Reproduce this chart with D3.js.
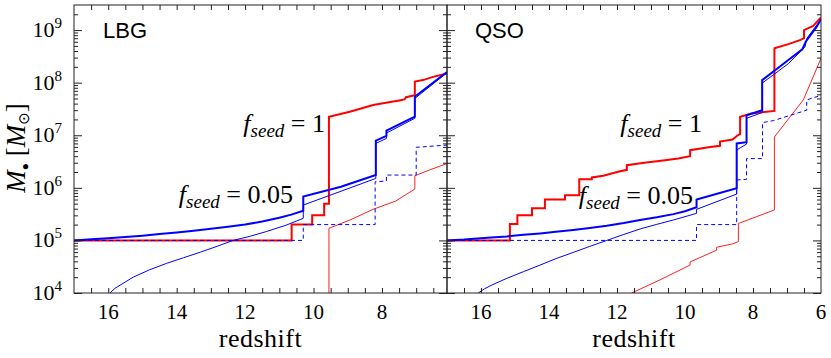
<!DOCTYPE html>
<html>
<head>
<meta charset="utf-8">
<script src="https://cdn.jsdelivr.net/npm/d3@7"></script>
<style>
body { margin: 0; background: #fff; }
svg { display: block; }
</style>
</head>
<body>
<div class="container"></div>
<script>
const size = {
    width: 831,
    height: 358
};
const plotTop = 5, plotBottom = 293;

// redshift / black hole mass pairs
// LBG panel
const lbgThickRed = [[17, 1e5], [10.64, 1e5], [10.64, 2.0e5], [10.04, 2.0e5], [10.04, 3.0e5], [9.69, 3.0e5],
    [9.69, 5.0e5], [9.55, 5.0e5], [9.55, 2.25e7], [8.94, 2.8e7], [8.26, 3.75e7], [7.5, 4.6e7], [7.34, 4.8e7],
    [7.3, 5.3e7], [7.04, 5.8e7], [7.04, 1.05e8], [6.8, 1.12e8], [6.51, 1.29e8], [6.1, 1.5e8]];
const lbgThinRed = [[9.55, 1e3], [9.55, 1.7e5], [8.94, 2.44e5], [8.26, 3.9e5], [7.6, 5.6e5], [7.29, 7.5e5],
    [7.04, 9.5e5], [7.04, 1.7e6], [6.6, 2.2e6], [6.1, 2.9e6]];
const lbgThickBlue = [[17, 1e5], [16.5, 1.05e5], [16, 1.1e5], [15.5, 1.16e5], [15, 1.23e5], [14.5, 1.32e5],
    [14, 1.41e5], [13.5, 1.53e5], [13, 1.66e5], [12.5, 1.82e5], [12, 2.0e5], [11.5, 2.29e5], [11, 2.69e5],
    [10.65, 3.09e5], [10.3, 3.67e5], [10.3, 6.8e5], [9.2, 1.05e6], [8.18, 1.75e6], [8.18, 7.9e6],
    [7.87, 9.7e6], [7.87, 1.22e7], [7.04, 2.25e7], [7.04, 5.4e7], [6.1, 1.6e8]];
const lbgThinBlue = [[15.95, 1e4], [15.8, 1.23e4], [15.6, 1.48e4], [15.27, 2.0e4], [14.8, 2.75e4],
    [14.29, 3.67e4], [13.8, 4.68e4], [13.3, 6.0e4], [12.8, 7.8e4], [12.35, 1.0e5], [11.85, 1.2e5],
    [11.37, 1.48e5], [10.8, 1.95e5], [10.3, 2.63e5], [10.3, 4.7e5], [8.18, 1.51e6], [8.18, 7.0e6],
    [7.87, 8.7e6], [7.87, 1.1e7], [7.04, 2.1e7], [7.04, 5.0e7], [6.1, 1.55e8]];
const lbgDashBlue = [[17, 1e5], [10.3, 1e5], [10.3, 2.0e5], [8.2, 2.0e5], [8.2, 1.3e6], [7.87, 1.35e6],
    [7.87, 1.75e6], [7.0, 1.75e6], [7.0, 5.9e6], [6.1, 6.5e6]];

// QSO panel
const qsoThickRed = [[17, 1e5], [15.15, 1e5], [15.15, 2.05e5], [14.93, 2.05e5], [14.93, 3.0e5], [14.5, 3.0e5],
    [14.5, 4.1e5], [14.12, 4.1e5], [14.12, 6.0e5], [13.53, 6.0e5], [13.53, 7.2e5], [13.11, 7.2e5],
    [13.11, 1.45e6], [12.74, 1.45e6], [12.74, 1.58e6], [12.4, 1.7e6], [12.0, 2.0e6], [11.71, 2.2e6],
    [11.71, 2.7e6], [11.2, 3.0e6], [10.64, 3.3e6], [10.2, 3.6e6], [9.85, 4.0e6], [9.85, 5.2e6],
    [9.26, 6.0e6], [8.97, 6.3e6], [8.97, 7.6e6], [8.6, 8.3e6], [8.45, 1.0e7], [8.38, 1.05e7],
    [8.38, 2.24e7], [8.04, 2.6e7], [7.37, 2.9e7], [7.37, 4.5e8], [6.96, 5.4e8], [6.6, 6.5e8],
    [6.5, 7.0e8], [6.5, 1.0e9], [6.23, 1.2e9], [6.0, 1.75e9]];
const qsoThinRed = [[11.57, 1e4], [10.74, 1.77e4], [9.85, 3.4e4], [9.85, 3.9e4], [9.07, 6.5e4],
    [9.07, 7.4e4], [8.6, 8.6e4], [8.43, 9.5e4], [8.43, 2.1e5], [7.37, 3.8e5], [7.37, 9.3e6],
    [6.52, 4.7e7], [6.0, 2.9e8]];
const qsoThickBlue = [[17, 1e5], [16.5, 1.04e5], [16.1, 1.09e5], [15.7, 1.14e5], [15.24, 1.19e5],
    [14.75, 1.28e5], [14.26, 1.36e5], [13.8, 1.46e5], [13.29, 1.58e5], [12.8, 1.73e5], [12.3, 1.9e5],
    [11.8, 2.14e5], [11.32, 2.44e5], [10.83, 2.75e5], [10.34, 3.16e5], [10.0, 3.6e5], [9.66, 4.27e5],
    [9.66, 6.0e5], [8.48, 9.8e5], [8.48, 7.0e6], [8.19, 7.4e6], [8.19, 2.4e7], [7.73, 3.0e7],
    [7.73, 1.12e8], [6.96, 2.7e8], [6.55, 4.3e8], [6.45, 6.0e8], [6.13, 1.15e9], [6.0, 1.6e9]];
const qsoThinBlue = [[16.08, 1e4], [15.9, 1.2e4], [15.7, 1.4e4], [15.24, 1.9e4], [14.75, 2.55e4],
    [14.26, 3.4e4], [13.8, 4.5e4], [13.29, 5.9e4], [12.8, 7.7e4], [12.3, 1.0e5], [11.8, 1.3e5],
    [11.32, 1.65e5], [10.83, 2.02e5], [10.34, 2.45e5], [9.66, 3.27e5], [9.66, 3.9e5], [8.48, 7.6e5],
    [8.48, 5.25e6], [8.19, 6.8e6], [8.19, 2.1e7], [7.73, 2.7e7], [7.73, 9.8e7], [6.96, 2.3e8],
    [6.47, 4.8e8], [6.42, 6.9e8], [6.0, 1.6e9]];
const qsoDashBlue = [[17, 1e5], [9.66, 1e5], [9.66, 2.0e5], [8.48, 2.0e5], [8.48, 1.41e6], [8.19, 1.45e6],
    [8.19, 3.6e6], [7.72, 3.6e6], [7.72, 1.74e7], [7.4, 1.9e7], [6.42, 3.0e7], [6.42, 4.7e7],
    [6.0, 5.75e7]];

const lbgTickLabels = [16, 14, 12, 10, 8];
const qsoTickLabels = [16, 14, 12, 10, 8, 6];
const massDecades = [4, 5, 6, 7, 8, 9];

const panels = [
    {name: "LBG", x0: 74, x1: 447, zRange: [17, 6.1], labels: lbgTickLabels,
     series: [lbgThinRed, lbgThickRed, lbgThickBlue, lbgThinBlue, lbgDashBlue],
     nameX: 103, f1: [325, 132], f2: [293, 203]},
    {name: "QSO", x0: 447, x1: 821, zRange: [17, 6.0], labels: qsoTickLabels,
     series: [qsoThinRed, qsoThickRed, qsoThickBlue, qsoThinBlue, qsoDashBlue],
     nameX: 475, f1: [702, 132], f2: [693, 204]}
];
const styles = [
    {color: "#ff2020", width: 1, dash: null},
    {color: "#ff0000", width: 2, dash: null},
    {color: "#0000ff", width: 2, dash: null},
    {color: "#0000ff", width: 1, dash: null},
    {color: "#0000ff", width: 1, dash: "4,3"}
];

const SERIF = "Liberation Serif";
const SANS = "Liberation Sans";

const svg = d3.select(".container")
              .append("svg")
              .attr("width", size.width)
              .attr("height", size.height);

const y = d3.scaleLog()
            .domain([1e4, 3e9])
            .range([plotBottom, plotTop]);

const majorY = massDecades.map(d => Math.pow(10, d));
const minorY = [];
massDecades.forEach(d => {
    for (let k = 2; k <= 9; k++) {
        const v = k * Math.pow(10, d);
        if (v < 3e9) minorY.push(v);
    }
});

panels.forEach((p, i) => {
    const x = d3.scaleLinear().domain(p.zRange).range([p.x0, p.x1]);
    const g = svg.append("g");

    g.append("clipPath").attr("id", "clip" + i)
        .append("rect")
        .attr("x", p.x0).attr("y", plotTop)
        .attr("width", p.x1 - p.x0).attr("height", plotBottom - plotTop);

    const line = d3.line().x(d => x(d[0])).y(d => y(d[1]));

    g.append("g").attr("clip-path", `url(#clip${i})`)
        .selectAll("path")
        .data(p.series)
        .enter()
        .append("path")
        .attr("d", line)
        .attr("fill", "none")
        .attr("stroke", (d, j) => styles[j].color)
        .attr("stroke-width", (d, j) => styles[j].width)
        .attr("stroke-dasharray", (d, j) => styles[j].dash)
        .attr("stroke-linejoin", "miter");

    // ticks, all pointing inwards
    const xTicks = d3.range(6.5, 16.51, 0.5);
    const noDomain = a => a.select(".domain").remove();
    g.append("g").attr("transform", `translate(0,${plotBottom})`)
        .call(d3.axisBottom(x).tickValues(xTicks).tickSize(-5).tickFormat("")).call(noDomain);
    g.append("g").attr("transform", `translate(0,${plotTop})`)
        .call(d3.axisTop(x).tickValues(xTicks).tickSize(-5).tickFormat("")).call(noDomain);
    g.append("g").attr("transform", `translate(${p.x0},0)`)
        .call(d3.axisLeft(y).tickValues(majorY).tickSize(-8).tickFormat("")).call(noDomain);
    g.append("g").attr("transform", `translate(${p.x0},0)`)
        .call(d3.axisLeft(y).tickValues(minorY).tickSize(-4).tickFormat("")).call(noDomain);
    g.append("g").attr("transform", `translate(${p.x1},0)`)
        .call(d3.axisRight(y).tickValues(majorY).tickSize(-8).tickFormat("")).call(noDomain);
    g.append("g").attr("transform", `translate(${p.x1},0)`)
        .call(d3.axisRight(y).tickValues(minorY).tickSize(-4).tickFormat("")).call(noDomain);
    g.selectAll(".tick line").attr("stroke", "#222");

    g.append("rect")
        .attr("x", p.x0).attr("y", plotTop)
        .attr("width", p.x1 - p.x0).attr("height", plotBottom - plotTop)
        .attr("fill", "none").attr("stroke", "#222").attr("stroke-width", 1);

    g.selectAll(".xlab")
        .data(p.labels)
        .enter()
        .append("text")
        .attr("x", d => x(d))
        .attr("y", 319)
        .attr("text-anchor", "middle")
        .style("font-family", SERIF)
        .style("font-size", "21px")
        .text(d => d);

    g.append("text")
        .attr("x", (p.x0 + p.x1) / 2)
        .attr("y", 347)
        .attr("text-anchor", "middle")
        .style("font-family", SERIF)
        .style("font-size", "26px")
        .style("letter-spacing", "0.5px")
        .text("redshift");

    g.append("text")
        .attr("x", p.nameX)
        .attr("y", 38)
        .style("font-family", SANS)
        .style("font-size", "22px")
        .text(p.name);

    const fseed = (pos, val) => {
        const t = g.append("text")
            .attr("x", pos[0]).attr("y", pos[1])
            .attr("text-anchor", "end")
            .style("font-family", SERIF)
            .style("font-size", "26px");
        t.append("tspan").style("font-style", "italic").text("f");
        t.append("tspan").style("font-style", "italic").style("font-size", "19px").attr("dy", 5).text("seed");
        t.append("tspan").attr("dy", -5).text(" = " + val);
    };
    fseed(p.f1, "1");
    fseed(p.f2, "0.05");
});

// y tick labels on the left panel
const ylab = svg.selectAll(".ylab")
    .data(massDecades)
    .enter()
    .append("text")
    .attr("x", 62)
    .attr("y", d => y(Math.pow(10, d)) + 7)
    .attr("text-anchor", "end")
    .style("font-family", SERIF)
    .style("font-size", "22px");
ylab.append("tspan").text("10");
ylab.append("tspan").style("font-size", "15px").attr("dy", -9).text(d => d);

const ytitle = svg.append("text")
    .attr("transform", "translate(25,148) rotate(-90)")
    .attr("text-anchor", "middle")
    .style("font-family", SERIF)
    .style("font-size", "27px");
ytitle.append("tspan").style("font-style", "italic").text("M");
ytitle.append("tspan").style("font-size", "12px").attr("dy", 4).text("●");
ytitle.append("tspan").attr("dy", -4).text(" [");
ytitle.append("tspan").style("font-style", "italic").text("M");
ytitle.append("tspan").style("font-size", "15px").attr("dy", 4).style("font-family", "DejaVu Sans").text("⊙");
ytitle.append("tspan").attr("dy", -4).text("]");
</script>
</body>
</html>
